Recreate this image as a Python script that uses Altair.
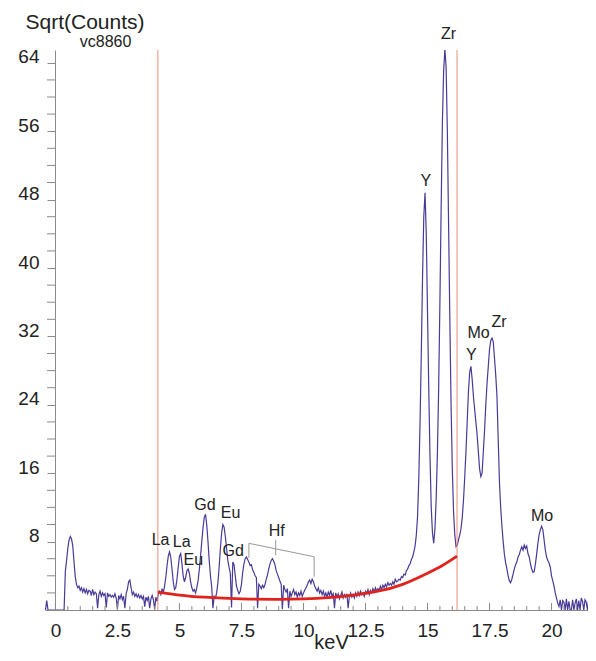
import altair as alt
import pandas as pd

# ---- spectrum: sqrt(counts), 0.05 keV channels; each row = 10 channels starting at row_start
row_start = [-0.5 + 0.5 * k for k in range(45)]
counts_rows = [
    [0, 0, 0, 1.1, 0, 0, 0, 0, 0, 0],                 # -0.5
    [0, 0, 0, 0, 0, 0, 0, 0, 4.5, 5.8],               # 0.0
    [7.2, 8.2, 8.6, 8.3, 7.5, 5.6, 3.9, 3.0, 2.6, 2.8],  # 0.5
    [2.3, 2.6, 2.1, 2.5, 2.0, 2.4, 1.9, 2.3, 2.2, 1.7],  # 1.0
    [2.4, 1.8, 2.1, 1.9, 0.2, 1.8, 2.2, 1.6, 2.0, 1.7],  # 1.5
    [1.9, 0.3, 2.0, 1.6, 1.8, 1.5, 1.7, 1.5, 1.9, 1.4],  # 2.0
    [0.1, 1.7, 1.3, 1.8, 1.2, 1.6, 0.2, 1.9, 2.4, 3.3],  # 2.5
    [3.5, 2.6, 1.8, 2.1, 1.6, 1.9, 1.5, 1.8, 1.4, 1.7],  # 3.0
    [1.3, 1.6, 0.4, 1.5, 1.1, 1.6, 0.2, 1.3, 1.7, 1.2],  # 3.5
    [0.1, 1.5, 1.0, 1.9, 2.2, 1.8, 2.5, 2.0, 2.8, 3.8],  # 4.0
    [5.2, 6.3, 6.8, 6.2, 4.8, 3.3, 2.4, 2.6, 3.6, 5.0],  # 4.5
    [6.3, 6.6, 5.4, 4.0, 3.3, 3.8, 4.6, 4.8, 4.3, 3.3],  # 5.0
    [2.6, 2.2, 2.4, 2.0, 2.6, 3.4, 4.7, 6.3, 8.0, 9.6],  # 5.5
    [10.8, 11.2, 10.0, 8.0, 5.8, 4.0, 2.7, 0.2, 1.6, 1.4],  # 6.0
    [2.0, 3.2, 5.0, 7.2, 9.0, 10.0, 9.7, 8.6, 7.2, 5.8],  # 6.5
    [5.0, 4.3, 0.3, 5.6, 5.3, 4.0, 2.8, 2.3, 1.9, 2.2],  # 7.0
    [3.0, 4.4, 5.4, 6.0, 6.2, 5.9, 5.6, 5.2, 5.3, 4.7],  # 7.5
    [4.4, 4.0, 3.8, 0.2, 3.0, 2.8, 2.5, 2.9, 2.6, 3.0],  # 8.0
    [3.6, 4.1, 4.8, 5.4, 5.8, 6.0, 5.7, 5.3, 4.6, 4.2],  # 8.5
    [3.8, 3.4, 3.0, 0.1, 2.9, 2.4, 2.1, 2.5, 0.2, 2.2],  # 9.0
    [1.6, 2.0, 2.4, 1.8, 2.1, 1.5, 2.0, 1.7, 2.2, 1.6],  # 9.5
    [2.0, 2.3, 2.6, 2.9, 3.3, 3.5, 3.1, 3.6, 3.3, 2.8],  # 10.0
    [2.5, 2.2, 2.6, 2.0, 2.3, 1.8, 2.2, 1.6, 2.0, 1.5],  # 10.5
    [2.1, 1.7, 2.3, 1.6, 1.9, 0.2, 2.0, 1.5, 1.9, 1.3],  # 11.0
    [1.7, 2.1, 1.4, 1.8, 1.5, 1.9, 0.2, 1.6, 2.0, 1.5],  # 11.5
    [1.8, 1.4, 2.0, 1.6, 2.1, 1.7, 2.2, 1.8, 2.0, 1.6],  # 12.0
    [2.2, 1.9, 2.4, 1.8, 2.3, 2.0, 2.5, 2.1, 2.6, 2.2],  # 12.5
    [2.5, 2.3, 2.8, 2.4, 2.9, 2.6, 3.0, 2.7, 3.2, 2.9],  # 13.0
    [3.1, 2.9, 3.3, 3.0, 3.6, 3.3, 3.4, 3.6, 3.5, 3.9],  # 13.5
    [3.8, 4.2, 4.1, 4.6, 4.8, 5.2, 5.4, 5.9, 6.2, 6.8],  # 14.0
    [7.5, 8.8, 11.0, 15.5, 22.0, 30.0, 39.0, 46.0, 48.8, 44.0],  # 14.5
    [35.0, 26.0, 18.0, 12.0, 9.0, 7.8, 9.5, 13.0, 18.5, 26.0],  # 15.0
    [36.0, 47.0, 57.0, 63.0, 65.6, 63.5, 56.0, 45.0, 34.0, 24.0],  # 15.5
    [16.5, 11.5, 8.8, 7.4, 7.6, 8.2, 8.8, 9.5, 10.8, 12.8],  # 16.0
    [15.5, 18.5, 22.0, 25.5, 27.8, 28.5, 27.0, 25.0, 23.5, 22.0],  # 16.5
    [20.5, 18.5, 16.5, 15.6, 16.0, 18.5, 21.0, 24.0, 26.5, 28.5],  # 17.0
    [30.5, 31.5, 31.8, 31.4, 29.5, 27.5, 25.0, 20.0, 15.0, 12.0],  # 17.5
    [9.8, 8.0, 6.5, 5.5, 4.8, 4.0, 3.4, 3.2, 3.6, 4.2],  # 18.0
    [4.8, 5.3, 5.6, 6.2, 6.5, 7.0, 7.4, 7.0, 7.6, 7.2],  # 18.5
    [7.5, 6.6, 6.2, 5.4, 4.8, 4.4, 4.5, 5.4, 6.5, 7.8],  # 19.0
    [8.8, 9.4, 9.8, 9.4, 8.2, 7.0, 6.2, 5.8, 5.5, 5.0],  # 19.5
    [4.0, 3.4, 2.8, 2.0, 1.4, 0.8, 0.4, 1.2, 0, 1.1],  # 20.0
    [0.9, 0, 1.3, 0, 1.0, 0, 0, 1.2, 0, 0.8],          # 20.5
    [1.3, 0, 1.1, 0, 1.4, 1.0, 0, 1.2, 0.9, 0],        # 21.0
    [1.3, 0, 1.1, 1.2, 0, 1.0, 0, 0, 0, 0],            # 21.5
]

# ---- fitted background (red curve)
bg_kev = [4.13, 5.0, 6.0, 7.5, 9.0, 10.0, 11.0, 12.0, 13.0, 14.0, 15.0, 15.6, 16.19]
bg_val = [2.1, 1.75, 1.5, 1.3, 1.25, 1.3, 1.45, 1.75, 2.2, 3.0, 4.3, 5.2, 6.3]

# ---- region-of-interest markers
roi_kev = [4.13, 16.19]

# ---- peak labels (plus the sample name above the plot)
lab_text = ["La", "La", "Eu", "Gd", "Eu", "Gd", "Hf", "Y", "Zr", "Mo", "Y", "Zr", "Mo"]
lab_kev = [4.24, 5.09, 5.56, 6.03, 7.06, 7.17, 8.92, 14.93, 15.85, 17.06, 16.77, 17.88, 19.62]
lab_val = [8.2, 8.0, 5.85, 12.3, 11.4, 6.9, 9.2, 50.2, 67.4, 32.4, 29.8, 33.7, 11.0]
sample_name = ["vc8860"]
sample_kev = [2.02]
sample_val = [65.8]

# ---- Hf bracket segments
br_x1 = [7.80, 7.80, 10.43, 8.88]
br_x2 = [7.80, 10.43, 10.43, 8.88]
br_y1 = [7.8, 7.8, 6.23, 8.2]
br_y2 = [6.1, 6.23, 3.9, 6.4]

# ---- axis ticks
x_label_vals = [0, 2.5, 5, 7.5, 10, 12.5, 15, 17.5, 20]
x_minor = [i * 0.5 for i in range(0, 43)]
y_label_vals = [8, 16, 24, 32, 40, 48, 56, 64]
y_minor = [v for v in range(2, 66, 2) if v % 8 != 0]

kev, val = [], []
for s, row in zip(row_start, counts_rows):
    for i, v in enumerate(row):
        kev.append(round(s + 0.05 * i, 2))
        val.append(v)
spec = pd.DataFrame({"kev": kev, "val": val})
bg = pd.DataFrame({"kev": bg_kev, "val": bg_val})
roi = pd.DataFrame({"kev": roi_kev})
labs = pd.DataFrame({"t": lab_text, "kev": lab_kev, "val": lab_val})
samp = pd.DataFrame({"t": sample_name, "kev": sample_kev, "val": sample_val})
br = pd.DataFrame({"x1": br_x1, "x2": br_x2, "y1": br_y1, "y2": br_y2})
xt = pd.DataFrame({"kev": x_minor, "major": [(v % 2.5) == 0 for v in x_minor]})
yt = pd.DataFrame({"val": y_minor})

FONT = "Liberation Sans"
GREY = "#8a8a8a"
xs = alt.Scale(domain=[-0.42, 21.47], nice=False, zero=False)
ys = alt.Scale(domain=[0, 65.5], nice=False, zero=False)

xaxis = alt.Axis(values=x_label_vals, format=".3~g", ticks=False, grid=False,
                 labelFontSize=19, labelPadding=11, labelColor="#222", labelFont=FONT,
                 domainColor=GREY, title="keV", titleFontSize=20, titleFontWeight="normal",
                 titleFont=FONT, titleColor="#222", titleAlign="center",
                 titleBaseline="alphabetic", titleX=286, titleY=38)
yaxis = alt.Axis(values=y_label_vals, tickSize=8, tickColor=GREY, domainColor=GREY,
                 grid=False, labelFontSize=19, labelColor="#222", labelFont=FONT,
                 labelPadding=8, labelBaseline="alphabetic", labelOverlap=False,
                 offset=-10, title="Sqrt(Counts)", titleAngle=0,
                 titleAlign="left", titleBaseline="alphabetic", titleX=-30, titleY=-22,
                 titleFontSize=21, titleFontWeight="normal", titleFont=FONT, titleColor="#222")

spectrum = alt.Chart(spec).mark_line(color="#4a3a98", strokeWidth=1.2, clip=True).encode(
    x=alt.X("kev:Q", scale=xs, axis=xaxis),
    y=alt.Y("val:Q", scale=ys, axis=yaxis),
)
rois = alt.Chart(roi).mark_rule(color="#ec8c75", strokeWidth=1).encode(x="kev:Q")
background = alt.Chart(bg).mark_line(color="#e0231c", strokeWidth=2.8, interpolate="natural").encode(
    x="kev:Q", y="val:Q")
bracket = alt.Chart(br).mark_rule(color="#8c8c8c", strokeWidth=0.9).encode(
    x="x1:Q", x2="x2:Q", y="y1:Q", y2="y2:Q")
labels = alt.Chart(labs).mark_text(fontSize=16, font=FONT, color="#222", baseline="middle").encode(
    x="kev:Q", y="val:Q", text="t:N")
sample = alt.Chart(samp).mark_text(fontSize=16, font=FONT, color="#222", baseline="alphabetic").encode(
    x="kev:Q", y="val:Q", text="t:N")
ticks_minor = alt.Chart(xt).transform_filter("!datum.major").mark_rule(color=GREY).encode(
    x="kev:Q", y=alt.value(560), y2=alt.value(556))
ticks_major = alt.Chart(xt).transform_filter("datum.major").mark_rule(color=GREY).encode(
    x="kev:Q", y=alt.value(560), y2=alt.value(553))
yticks_minor = alt.Chart(yt).mark_rule(color=GREY).encode(
    y="val:Q", x=alt.value(2), x2=alt.value(10))

chart = alt.layer(spectrum, ticks_minor, ticks_major, yticks_minor, rois, background,
                  bracket, labels, sample).properties(
    width=543, height=560,
    autosize=alt.AutoSizeParams(type="none"),
    padding={"left": 37, "top": 42, "right": 0, "bottom": 43},
).configure_view(stroke=None)

chart.save("out.html", embed_options={"renderer": "svg", "actions": False})
